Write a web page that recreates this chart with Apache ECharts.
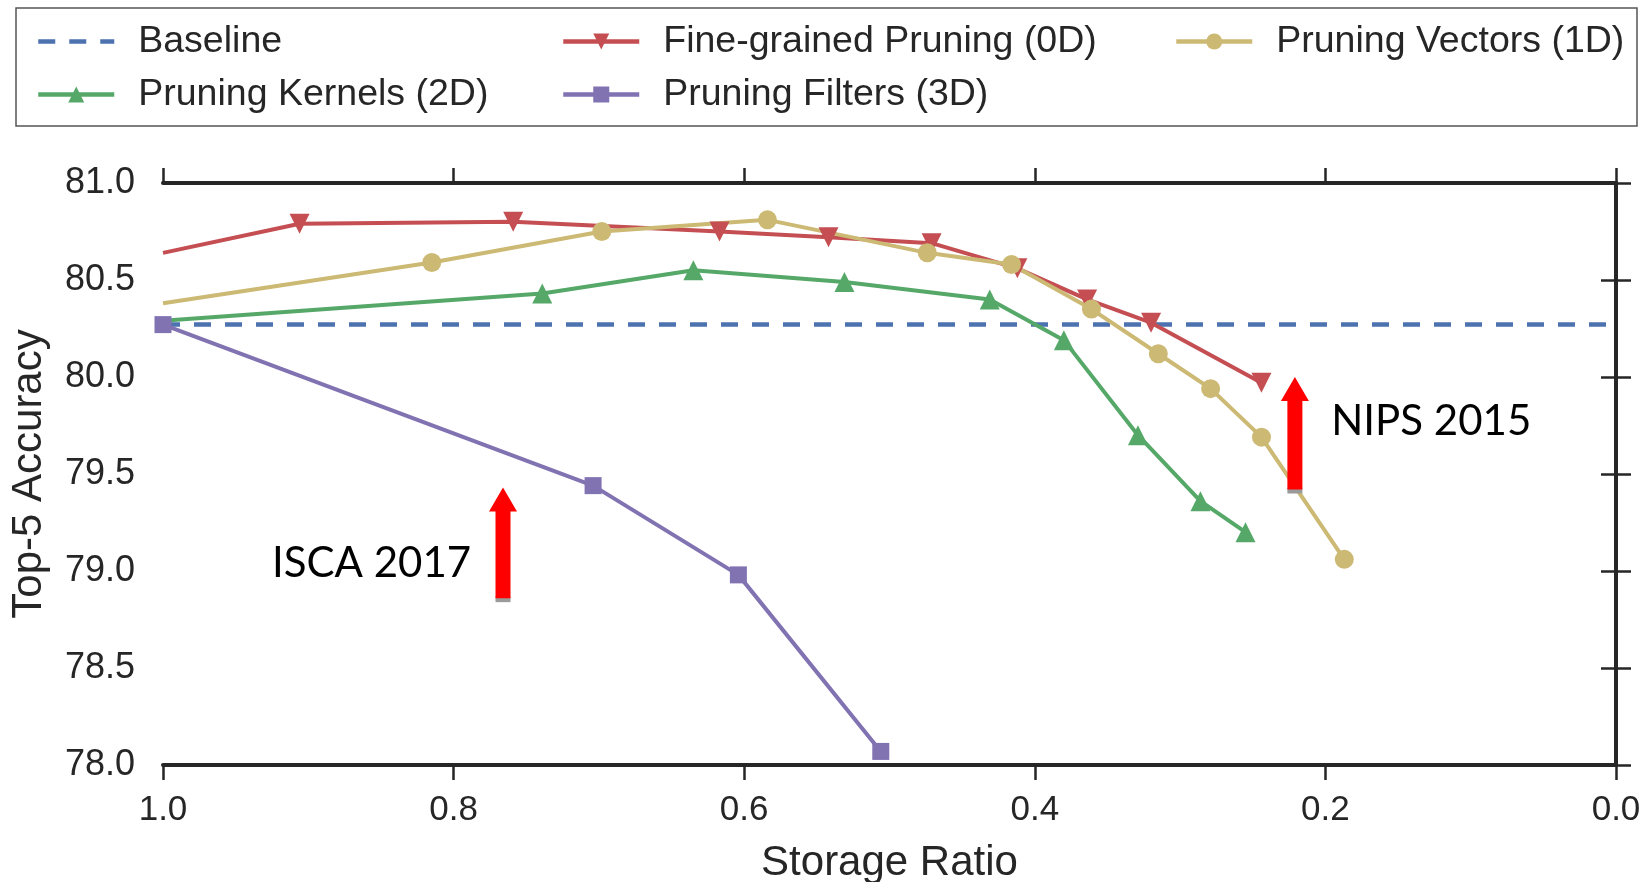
<!DOCTYPE html>
<html>
<head>
<meta charset="utf-8">
<script src="https://cdn.jsdelivr.net/npm/echarts@6/dist/echarts.min.js"></script>
<style>
  html, body { margin: 0; padding: 0; background: #fff; }
  #chart { width: 1648px; height: 882px; }
</style>
</head>
<body>
<div id="chart"></div>
<script>
// data
const seriesNames = ['Baseline', 'Fine-grained Pruning (0D)', 'Pruning Vectors (1D)', 'Pruning Kernels (2D)', 'Pruning Filters (3D)']
const xTicks = [0.0, 0.2, 0.4, 0.6, 0.8, 1.0]
const yTicks = [78.0, 78.5, 79.0, 79.5, 80.0, 80.5, 81.0]

const baselineX = [1.0, 0.0]
const baselineY = [80.27, 80.27]

const fineX = [1.0, 0.906, 0.759, 0.617, 0.542, 0.471, 0.412, 0.364, 0.320, 0.244]
const fineY = [80.64, 80.79, 80.80, 80.75, 80.72, 80.69, 80.56, 80.40, 80.28, 79.97]

const vectorX = [1.0, 0.815, 0.698, 0.584, 0.474, 0.416, 0.361, 0.315, 0.279, 0.244, 0.187]
const vectorY = [80.38, 80.59, 80.75, 80.81, 80.64, 80.58, 80.35, 80.12, 79.94, 79.69, 79.06]

const kernelX = [1.0, 0.739, 0.635, 0.531, 0.431, 0.380, 0.329, 0.286, 0.255]
const kernelY = [80.29, 80.43, 80.55, 80.49, 80.40, 80.19, 79.70, 79.36, 79.20]

const filterX = [1.0, 0.704, 0.604, 0.506]
const filterY = [80.27, 79.44, 78.98, 78.07]

// red arrows: x, tail, tip
const arrowX = [0.766, 0.221]
const arrowFrom = [78.86, 79.42]
const arrowTo = [79.43, 80.00]

const noteText = ['ISCA 2017', 'NIPS 2015']
const noteX = [0.925, 0.196]
const noteY = [79.04, 79.77]

const pairs = (xs, ys) => xs.map((x, i) => [x, ys[i]])

const axisColor = '#262626'
const font = 'Liberation Sans, Arial, sans-serif'

const lineSeries = (name, xs, ys, color, symbol, size, rotate, hideFirst) => ({
  name,
  type: 'line',
  data: pairs(xs, ys).map((p, i) => (hideFirst && i === 0 ? { value: p, symbol: 'none' } : p)),
  symbol,
  symbolSize: size,
  symbolRotate: rotate,
  showAllSymbol: true,
  color,
  lineStyle: { width: 4, color },
  itemStyle: { color },
  z: 3
})

const legendBase = {
  orient: 'vertical',
  top: 16,
  itemWidth: 76,
  itemHeight: 20,
  itemGap: 12,
  lineStyle: { width: 4.5 },
  textStyle: { fontSize: 37.5, fontFamily: font, color: axisColor, lineHeight: 41, padding: [0, 0, 0, 19] }
}

const chart = echarts.init(document.getElementById('chart'))

const option = {
  animation: false,
  backgroundColor: '#fff',
  grid: { left: 163, right: 32, top: 183, bottom: 117, containLabel: false, outerBoundsMode: 'none' },
  graphic: [
    {
      type: 'rect',
      shape: { x: 16, y: 8, width: 1621, height: 118 },
      style: { fill: 'none', stroke: '#555', lineWidth: 1.5 },
      z: 0
    }
  ],
  legend: [
    Object.assign({}, legendBase, {
      left: 31,
      data: [{ name: seriesNames[0], itemStyle: { opacity: 0 } }, seriesNames[3]]
    }),
    Object.assign({}, legendBase, { left: 556, data: [seriesNames[1], seriesNames[4]] }),
    Object.assign({}, legendBase, { left: 1169, data: [seriesNames[2]] })
  ],
  xAxis: [
    {
      type: 'value',
      min: xTicks[0],
      max: xTicks[xTicks.length - 1],
      interval: 0.2,
      inverse: true,
      position: 'bottom',
      name: 'Storage Ratio',
      nameLocation: 'middle',
      nameGap: 77,
      nameTextStyle: { fontSize: 42, fontFamily: font, color: axisColor },
      axisLine: { show: true, lineStyle: { color: axisColor, width: 4 } },
      axisTick: { show: true, length: 15, lineStyle: { color: axisColor, width: 2.5 } },
      axisLabel: { fontSize: 35, fontFamily: font, color: axisColor, margin: 28, formatter: v => v.toFixed(1) },
      splitLine: { show: false },
      z: 10
    },
    {
      type: 'value',
      min: xTicks[0],
      max: xTicks[xTicks.length - 1],
      interval: 0.2,
      inverse: true,
      position: 'top',
      axisLine: { show: true, lineStyle: { color: axisColor, width: 4 } },
      axisTick: { show: true, length: 15, lineStyle: { color: axisColor, width: 2.5 } },
      axisLabel: { show: false },
      splitLine: { show: false },
      z: 10
    }
  ],
  yAxis: [
    {
      type: 'value',
      min: yTicks[0],
      max: yTicks[yTicks.length - 1],
      interval: 0.5,
      position: 'left',
      name: 'Top-5 Accuracy',
      nameLocation: 'middle',
      nameGap: 113,
      nameTextStyle: { fontSize: 42, fontFamily: font, color: axisColor },
      axisLine: { show: true, lineStyle: { color: axisColor, width: 4 } },
      axisTick: { show: true, length: 15, lineStyle: { color: axisColor, width: 2.5 } },
      axisLabel: { fontSize: 36, fontFamily: font, color: axisColor, margin: 28, formatter: v => v.toFixed(1) },
      splitLine: { show: false },
      z: 10
    },
    {
      type: 'value',
      min: yTicks[0],
      max: yTicks[yTicks.length - 1],
      interval: 0.5,
      position: 'right',
      axisLine: { show: true, lineStyle: { color: axisColor, width: 4 } },
      axisTick: { show: true, length: 15, lineStyle: { color: axisColor, width: 2.5 } },
      axisLabel: { show: false },
      splitLine: { show: false },
      z: 10
    }
  ],
  series: [
    {
      name: seriesNames[0],
      type: 'line',
      data: pairs(baselineX, baselineY),
      symbol: 'none',
      color: '#4C72B0',
      lineStyle: { width: 4.5, color: '#4C72B0', type: [17, 14] },
      z: 2
    },
    lineSeries(seriesNames[1], fineX, fineY, '#C44E52', 'triangle', 20, 180, true),
    lineSeries(seriesNames[2], vectorX, vectorY, '#CCB974', 'circle', 19, 0, true),
    lineSeries(seriesNames[3], kernelX, kernelY, '#55A868', 'triangle', 20, 0, true),
    lineSeries(seriesNames[4], filterX, filterY, '#8172B2', 'rect', 17, 0, false),
    {
      type: 'custom',
      silent: true,
      z: 5,
      data: arrowX.map((x, i) => [x, arrowFrom[i], arrowTo[i]]),
      renderItem: (params, api) => {
        const tail = api.coord([api.value(0), api.value(1)])
        const tip = api.coord([api.value(0), api.value(2)])
        const cx = tail[0]
        const hw = 7.5
        const headW = 14
        const headL = 24
        return {
          type: 'group',
          children: [
            {
              type: 'rect',
              shape: { x: cx - hw, y: tail[1] - 2, width: hw * 2, height: 6 },
              style: { fill: '#9a9a9a' }
            },
            {
              type: 'polygon',
              shape: {
                points: [
                  [cx - hw, tail[1]],
                  [cx - hw, tip[1] + headL],
                  [cx - headW, tip[1] + headL],
                  [cx, tip[1]],
                  [cx + headW, tip[1] + headL],
                  [cx + hw, tip[1] + headL],
                  [cx + hw, tail[1]]
                ]
              },
              style: { fill: '#ff0000' }
            }
          ]
        }
      }
    },
    {
      type: 'custom',
      silent: true,
      z: 5,
      data: noteX.map((x, i) => [x, noteY[i], i]),
      renderItem: (params, api) => {
        const p = api.coord([api.value(0), api.value(1)])
        return {
          type: 'text',
          x: p[0],
          y: p[1],
          style: {
            text: noteText[api.value(2)],
            fontSize: 42,
            fontFamily: 'Lato, Open Sans, sans-serif',
            fill: '#000',
            align: 'left',
            verticalAlign: 'middle'
          }
        }
      }
    }
  ]
}

chart.setOption(option)
</script>
</body>
</html>
